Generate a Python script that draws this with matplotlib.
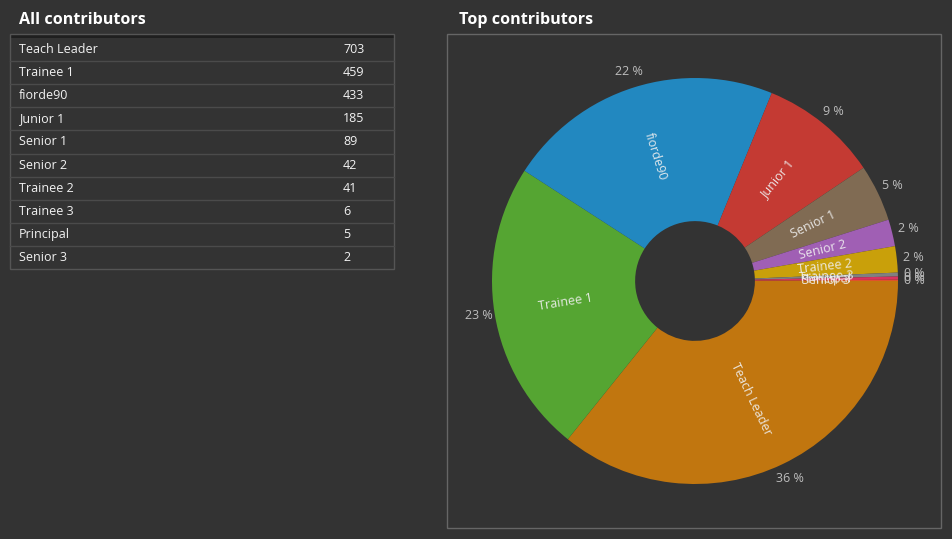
import numpy as np
import matplotlib
matplotlib.use("Agg")
import matplotlib.pyplot as plt
from matplotlib.patches import Rectangle

names = ["Teach Leader", "Trainee 1", "fiorde90", "Junior 1", "Senior 1",
         "Senior 2", "Trainee 2", "Trainee 3", "Principal", "Senior 3"]
counts = [703, 459, 433, 185, 89, 42, 41, 6, 5, 2]
colors = ["#C1760F", "#55A532", "#2288C0", "#C43A33", "#806B53",
          "#A05FB4", "#C9A00A", "#808080", "#D8335E", "#E0522A"]
left_title = "All contributors"
right_title = "Top contributors"

plt.rcParams['font.family'] = ['Open Sans', 'DejaVu Sans']
BG = "#333333"
W, H = 953, 539
fig = plt.figure(figsize=(W / 100, H / 100), dpi=100, facecolor=BG)

# background / table axes in pixel coordinates
bg = fig.add_axes([0, 0, 1, 1])
bg.set_xlim(0, W)
bg.set_ylim(H, 0)
bg.axis("off")
bg.set_facecolor(BG)

bg.text(19, 20, left_title, fontsize=11.6, fontweight="bold", color="white",
        ha="left", va="center")
bg.text(459, 20, right_title, fontsize=11.6, fontweight="bold", color="white",
        ha="left", va="center")

# table
tx0, tx1 = 10.5, 394.5
ty0 = 34
band = 4
row_h = 23.1
n = len(names)
bg.add_patch(Rectangle((tx0, ty0), tx1 - tx0, band, facecolor="#1f1f1f",
                       edgecolor="none"))
for i, (nm, c) in enumerate(zip(names, counts)):
    yc = ty0 + band + row_h * (i + 0.5)
    bg.text(19, yc, nm, fontsize=9, color="#f2f2f2", ha="left", va="center")
    bg.text(343, yc, str(c), fontsize=9, color="#f2f2f2", ha="left", va="center")
    yl = ty0 + band + row_h * (i + 1)
    if i < n - 1:
        bg.plot([tx0, tx1], [yl, yl], color="#4b4b4b", lw=1)
ty1 = ty0 + band + row_h * n
bg.add_patch(Rectangle((tx0, ty0), tx1 - tx0, ty1 - ty0, facecolor="none",
                       edgecolor="#555555", lw=1))

# right panel box
bg.add_patch(Rectangle((447.5, 33.5), 494, 494, facecolor="none",
                       edgecolor="#666666", lw=1))

# pie axes
cx, cy, R = 695, 281, 203
half = 1.25 * R
ax = fig.add_axes([(cx - half) / W, (H - cy - half) / H, 2 * half / W, 2 * half / H])
ax.set_facecolor("none")
wedges, _ = ax.pie(counts, colors=colors, startangle=0, counterclock=False,
                   radius=1, wedgeprops=dict(width=0.705, edgecolor="none"))
ax.set_xlim(-1.25, 1.25)
ax.set_ylim(-1.25, 1.25)
ax.set_aspect("equal")
ax.axis("off")

total = sum(counts)
for w, nm, c in zip(wedges, names, counts):
    mid = np.deg2rad((w.theta1 + w.theta2) / 2)
    ang = np.rad2deg(mid)
    rot = ((ang + 90) % 180) - 90
    r_in = 0.645
    ax.text(r_in * np.cos(mid), r_in * np.sin(mid), nm, fontsize=9,
            color="#f0f0f0", ha="center", va="center", rotation=rot,
            rotation_mode="anchor", alpha=0.92)
    r_out = 1.08
    pct = round(100 * c / total)
    ax.text(r_out * np.cos(mid), r_out * np.sin(mid), f"{pct} %", fontsize=9,
            color="#bdbdbd", ha="center", va="center")

fig.savefig("out.png", dpi=100, facecolor=BG)
